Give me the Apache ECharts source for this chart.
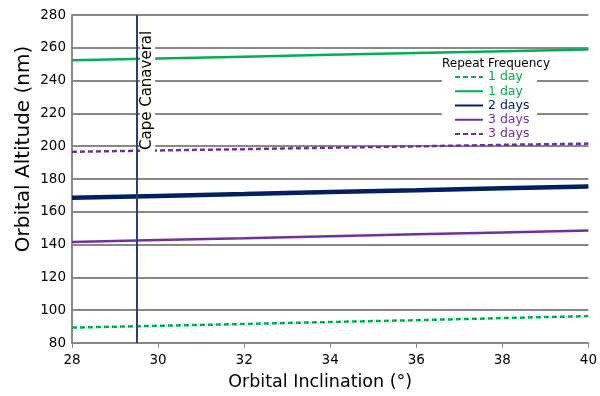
<!DOCTYPE html>
<html><head><meta charset="utf-8">
<script src="https://cdn.jsdelivr.net/npm/echarts@6/dist/echarts.min.js"></script>
<style>html,body{margin:0;padding:0;background:#fff}#c{width:600px;height:396px}</style>
</head><body><div id="c"></div>
<script>
var inclinations = [28, 30, 32, 34, 36, 38, 40];
var oneDayDashed = [89.4, 90.5, 91.6, 92.8, 93.9, 95.2, 96.4];
var oneDaySolid = [252.4, 253.5, 254.6, 255.7, 256.8, 257.9, 259.0];
var twoDays = [168.6, 169.7, 170.8, 172.0, 173.1, 174.3, 175.4];
var threeDaysSolid = [141.6, 142.8, 143.9, 145.1, 146.3, 147.4, 148.6];
var threeDaysDashed = [196.6, 197.4, 198.2, 199.1, 199.9, 200.8, 201.6];
var capeCanaveral = 29.5;
var yTicks = {min: 80, max: 280, interval: 20};
var xTicks = {min: 28, max: 40, interval: 2};

var GREEN = '#00b050', NAVY = '#002060', PURPLE = '#7030a0';
var FONT = 'DejaVu Sans';
function pts(v){ return inclinations.map(function(x,i){ return [x, v[i]]; }); }
function ser(name, data, color, width, type){
  return {name: name, type: 'line', data: pts(data), showSymbol: false, symbol: 'none',
    lineStyle: {color: color, width: width, type: type}, itemStyle: {color: color},
    z: 2, animation: false};
}
var series = [
  ser('1 day', oneDayDashed, GREEN, 2.5, [5, 3]),
  ser('1 day ', oneDaySolid, GREEN, 2.5, 'solid'),
  ser('2 days', twoDays, NAVY, 4.5, 'solid'),
  ser('3 days', threeDaysSolid, PURPLE, 2.5, 'solid'),
  ser('3 days ', threeDaysDashed, PURPLE, 2.5, [5, 3])
];
series.push({type: 'line', data: [], markLine: {symbol: 'none', silent: true, animation: false,
  label: {show: false}, lineStyle: {color: '#2b3f7f', width: 2, type: 'solid'},
  data: [{xAxis: capeCanaveral}]}});

var chart = echarts.init(document.getElementById('c'));
var legendColors = [GREEN, GREEN, NAVY, PURPLE, PURPLE];
chart.setOption({
  animation: false,
  backgroundColor: '#fff',
  grid: {left: 72, right: 8, top: 15, bottom: 47},
  xAxis: {type: 'value', min: xTicks.min, max: xTicks.max, interval: xTicks.interval,
    name: 'Orbital Inclination (°)', nameLocation: 'middle', nameGap: 30,
    nameTextStyle: {fontFamily: FONT, fontSize: 17.5, color: '#000', padding: [0, 20, 0, 0]},
    axisLine: {show: true, lineStyle: {color: '#888', width: 2}},
    axisTick: {show: true, length: 5, lineStyle: {color: '#888', width: 1}},
    axisLabel: {fontFamily: FONT, fontSize: 13.5, color: '#000', margin: 10},
    splitLine: {show: false}},
  yAxis: {type: 'value', min: yTicks.min, max: yTicks.max, interval: yTicks.interval,
    axisLine: {show: true, lineStyle: {color: '#888', width: 2}},
    axisTick: {show: false},
    axisLabel: {fontFamily: FONT, fontSize: 13.5, color: '#000', margin: 6},
    splitLine: {show: true, lineStyle: {color: '#888', width: 2}}},
  legend: {orient: 'vertical', left: 454, top: 70, itemWidth: 28, itemHeight: 14, itemGap: 0.25,
    z: 6, padding: 0, itemStyle: {opacity: 0},
    data: series.slice(0,5).map(function(s, i){
      return {name: s.name, textStyle: {color: legendColors[i], fontFamily: FONT, fontSize: 12.5, lineHeight: 14}};
    }),
    formatter: function(n){ return n.trim(); }},
  graphic: [
    {type: 'rect', shape: {x: 442, y: 56, width: 95, height: 85}, style: {fill: '#fff'}, z: 3},
    {type: 'text', left: 442, top: 58, z: 4, style: {text: 'Repeat Frequency', fill: '#000', fontSize: 12, fontFamily: FONT}},
    {type: 'text', x: 24, y: 149, rotation: Math.PI/2, z: 4,
      style: {text: 'Orbital Altitude (nm)', fill: '#000', fontSize: 20, fontFamily: FONT, align: 'center', verticalAlign: 'middle'}}
  ],
  series: series
});
var p = chart.convertToPixel({gridIndex: 0}, [capeCanaveral, 280]);
chart.setOption({graphic: [{}, {}, {}, {type: 'text', x: p[0] + 11, y: 152, rotation: Math.PI/2, z: 5,
  style: {text: 'Cape Canaveral', fill: '#000', fontSize: 15, fontFamily: FONT, backgroundColor: '#fff',
    padding: [0, 2], verticalAlign: 'middle', align: 'left'}}]});
</script></body></html>
